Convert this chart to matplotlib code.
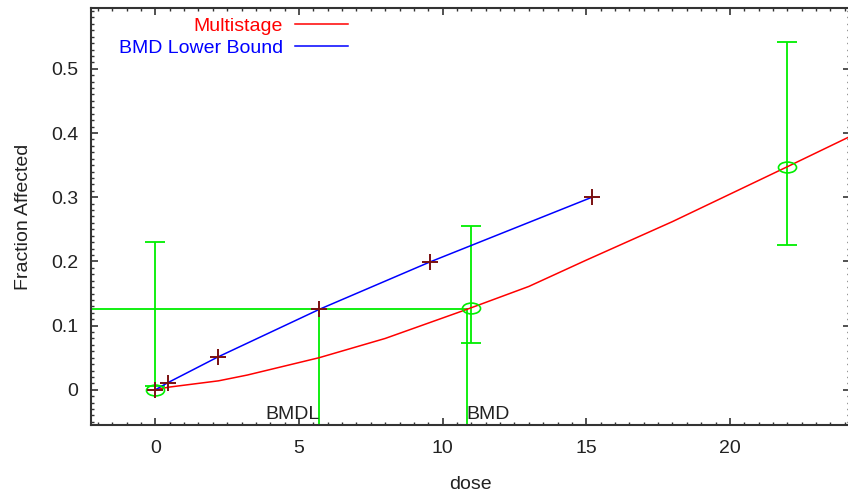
import matplotlib.pyplot as plt
from matplotlib.path import Path
from matplotlib.transforms import Affine2D
from matplotlib.ticker import MultipleLocator

plt.rcParams['font.family'] = ['Liberation Sans', 'DejaVu Sans']

# observed data with confidence limits
dose_obs = [0, 11, 22]
frac_obs = [0.0, 0.128, 0.3475]
ci_low = [0.006, 0.0725, 0.2255]
ci_high = [0.23, 0.255, 0.541]

# multistage fitted curve
dose_fit = [0, 0.44, 2.2, 3.2, 5.7, 8, 10.85, 13, 15, 18, 22, 24.2]
frac_fit = [0.0, 0.004, 0.014, 0.023, 0.050, 0.080, 0.1254, 0.161, 0.202, 0.262, 0.3475, 0.395]

# BMD lower bound line
dose_lb = [0, 0.43, 2.17, 5.71, 9.55, 15.2]
frac_lb = [0.0, 0.011, 0.051, 0.1254, 0.199, 0.300]

bmr = 0.1254
bmdl = 5.71
bmd = 10.84

fig = plt.figure(figsize=(8.48, 4.95), dpi=100)
ax = fig.add_axes([91 / 848, 1 - 425 / 495, 759 / 848, 417 / 495])

green = '#00ee00'
ell = Path.unit_circle().transformed(Affine2D().scale(1, 0.6))

# confidence bars with caps
ax.vlines(dose_obs, ci_low, ci_high, color=green, lw=1.3, zorder=2)
ax.plot(dose_obs, ci_low, ls='none', marker='_', ms=15, mew=1.3, color=green, zorder=2)
ax.plot(dose_obs, ci_high, ls='none', marker='_', ms=15, mew=1.3, color=green, zorder=2)
ax.plot(dose_obs, frac_obs, ls='none', marker=ell, ms=13, mfc='none', mec=green, mew=1.2, zorder=4)

ax.plot(dose_fit, frac_fit, color='#ff0000', lw=1.1, label='Multistage', zorder=3)
ax.plot(dose_lb, frac_lb, color='#0000ff', lw=1.1, label='BMD Lower Bound', zorder=3)
ax.plot(dose_lb, frac_lb, ls='none', marker='+', ms=12, mew=1.4, color='#7a1010', zorder=5)

# BMD / BMDL reference lines
ax.plot([-2.24, bmd], [bmr, bmr], color=green, lw=1.3, zorder=2)
ax.plot([bmdl, bmdl], [-0.0548, bmr], color=green, lw=1.3, zorder=2)
ax.plot([bmd, bmd], [-0.0548, bmr], color=green, lw=1.3, zorder=2)
ax.text(bmdl, -0.046, 'BMDL', ha='right', va='baseline', fontsize=14, color='#222222')
ax.text(bmd, -0.046, 'BMD', ha='left', va='baseline', fontsize=14, color='#222222')

ax.set_xlim(-2.24, 24.18)
ax.set_ylim(-0.0548, 0.5947)
ax.xaxis.set_major_locator(MultipleLocator(5))
ax.xaxis.set_minor_locator(MultipleLocator(0.5))
ax.yaxis.set_major_locator(MultipleLocator(0.1))
ax.yaxis.set_minor_locator(MultipleLocator(0.01))
ax.set_xticks([0, 5, 10, 15, 20])
ax.set_xticklabels(['0', '5', '10', '15', '20'])
ax.set_yticks([0, 0.1, 0.2, 0.3, 0.4, 0.5])
ax.set_yticklabels(['0', '0.1', '0.2', '0.3', '0.4', '0.5'])
ax.tick_params(which='both', direction='in', top=True, right=True, colors='#333333',
               labelcolor='#222222', labelsize=14)
ax.tick_params(which='major', length=5, width=1.2)
ax.tick_params(which='minor', length=2.5, width=1)
ax.tick_params(axis='y', pad=9)
ax.tick_params(axis='x', pad=10.5)
for s in ax.spines.values():
    s.set_color('#333333')
    s.set_linewidth(1.5)

ax.set_xlabel('dose', fontsize=14, color='#222222', labelpad=14)
ax.set_ylabel('Fraction Affected', fontsize=14, color='#222222', labelpad=14)

leg = ax.legend(loc='upper left', bbox_to_anchor=(101.5 / 848, 1.0),
                bbox_transform=fig.transFigure, frameon=False, markerfirst=False,
                fontsize=14, handlelength=2.73, handletextpad=0.62, labelspacing=0.2)
for t, c in zip(leg.get_texts(), ['#ff0000', '#0000ff']):
    t.set_color(c)

fig.savefig('out.png', dpi=100)
